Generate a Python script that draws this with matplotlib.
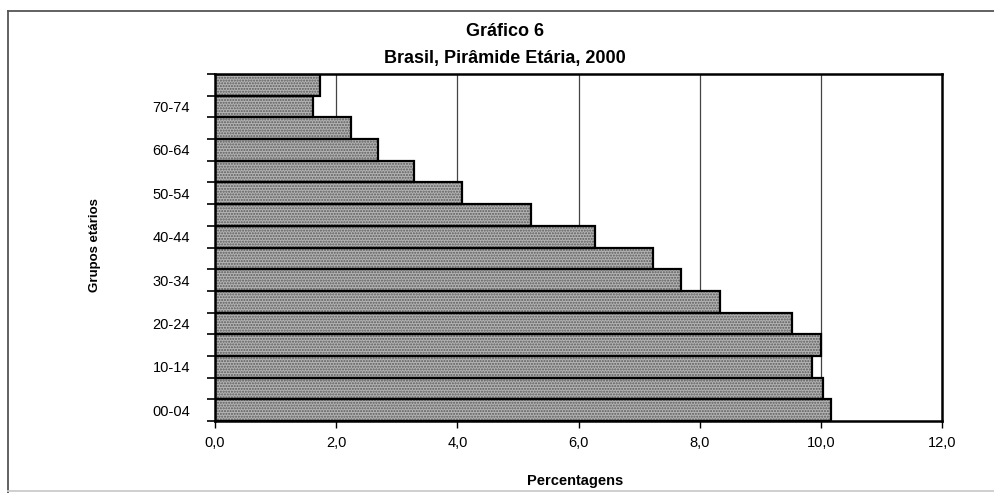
import matplotlib
matplotlib.use("Agg")
import matplotlib.pyplot as plt
from matplotlib.lines import Line2D

# age groups, bottom to top
groups = ["00-04", "05-09", "10-14", "15-19", "20-24", "25-29", "30-34", "35-39",
          "40-44", "45-49", "50-54", "55-59", "60-64", "65-69", "70-74", "75+"]
pct = [10.16, 10.03, 9.86, 10.01, 9.52, 8.34, 7.69, 7.23,
       6.28, 5.21, 4.07, 3.28, 2.69, 2.24, 1.62, 1.73]
xticks = [0, 2, 4, 6, 8, 10, 12]
xtick_labels = ["0,0", "2,0", "4,0", "6,0", "8,0", "10,0", "12,0"]

plt.rcParams["font.family"] = ["Liberation Sans", "DejaVu Sans"]

W, H = 994, 493
fig = plt.figure(figsize=(W / 100, H / 100), dpi=100)
ax = fig.add_axes([215 / W, 1 - 421 / H, (942 - 215) / W, (421 - 74) / H])

y = list(range(len(groups)))
# stippled grey fill, then black outlines
ax.barh(y, pct, height=1.0, color="#b4b4b4", edgecolor="#5a5a5a",
        hatch="......", linewidth=0, zorder=2)
ax.barh(y, pct, height=1.0, fill=False, edgecolor="black", linewidth=1.6, zorder=3)

ax.set_xlim(0, 12)
ax.set_ylim(-0.5, len(groups) - 0.5)

for g in xticks[1:-1]:
    ax.axvline(g, color="#444444", linewidth=0.9, zorder=1)

ax.set_xticks(xticks)
ax.set_xticklabels(xtick_labels, fontsize=10.5)
ax.set_yticks(y[::2])
ax.set_yticklabels(groups[::2], fontsize=10.5)
ax.tick_params(axis="y", which="major", length=0, pad=18)
ax.set_yticks([i - 0.5 for i in range(len(groups) + 1)], minor=True)
ax.tick_params(axis="y", which="minor", length=6, width=1.2, direction="out")
ax.tick_params(axis="x", length=5, width=1.0, direction="out", pad=6)

for s in ax.spines.values():
    s.set_linewidth(1.8)
    s.set_color("black")

ax.set_xlabel("Percentagens", fontsize=10.5, fontweight="bold", va="center")
ax.xaxis.set_label_coords((575 - 215) / 727, -(481 - 421) / 347)
ax.set_ylabel("Grupos etários", fontsize=9.5, fontweight="bold", va="center")
ax.yaxis.set_label_coords((95 - 215) / 727, 0.5 - (245 - 247.5) / 347)

fig.text(505 / W, 1 - 32 / H, "Gráfico 6", ha="center", va="center",
         fontsize=13, fontweight="bold")
fig.text(505 / W, 1 - 58 / H, "Brasil, Pirâmide Etária, 2000", ha="center", va="center",
         fontsize=13, fontweight="bold")

# scanned page frame: left, top, faint bottom
for xs, ys, c in [([8, 8], [11, 493], "#555555"),
                  ([8, 994], [11, 11], "#555555"),
                  ([8, 994], [491, 491], "#cccccc")]:
    fig.add_artist(Line2D([v / W for v in xs], [1 - v / H for v in ys],
                          transform=fig.transFigure, color=c, linewidth=1.3))

fig.savefig("out.png", dpi=100)
